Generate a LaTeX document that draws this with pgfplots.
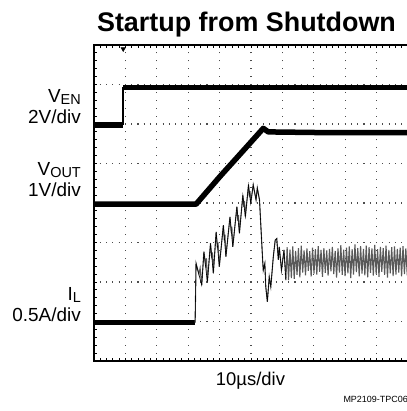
\documentclass[border=0pt]{standalone}
\usepackage{pgfplots}
\pgfplotsset{compat=1.18}
\usepackage{fontspec}
\setmainfont{Liberation Sans}
\begin{document}
\begin{tikzpicture}[x=1bp,y=1bp]
\useasboundingbox (0,0) rectangle (407,411);
\begin{axis}[
  at={(94bp,50bp)}, anchor=south west,
  scale only axis, width=315.6bp, height=316bp,
  xmin=0, xmax=10.05, ymin=0, ymax=8,
  xtick={0,...,10}, ytick={0,...,8},
  minor x tick num=4, minor y tick num=4,
  xticklabels={}, yticklabels={},
  tick align=inside, tick pos=both,
  major tick length=3bp, minor tick length=3bp,
  every tick/.style={black, line width=0.9bp},
  grid=major,
  x grid style={black!70, line width=1.1bp, dash pattern=on 1.1bp off 6.8bp, dash phase=0.55bp},
  y grid style={black!70, line width=1.1bp, dash pattern=on 1.1bp off 5.18bp, dash phase=0.55bp},
  axis line style={black, line width=2.6bp},
  clip=true,
]
% V_EN
\addplot[black, line width=5.5bp, line cap=butt] coordinates {(0,5.97) (0.925,5.97)};
\addplot[black, line width=1.3bp] coordinates {(0.925,5.97) (0.925,6.93)};
\addplot[black, line width=5.5bp, line cap=butt] coordinates {(0.925,6.93) (10.05,6.93)};
% V_OUT
\addplot[black, line width=5.5bp, line join=round] coordinates {(0,3.97) (3.25,3.97) (4.01,4.67) (4.86,5.42) (5.39,5.89) (5.55,5.80) (7.5,5.78) (10.05,5.78)};
% I_L baseline
\addplot[black, line width=5bp, line cap=butt] coordinates {(0,0.97) (3.22,0.97)};
% I_L switching
\addplot[black!65, line width=1.1bp] coordinates {
(3.22,0.97) (3.25,2.47) (3.34,2.20) (3.38,2.35) (3.43,1.92) (3.50,2.77) (3.55,2.45) (3.58,2.60) (3.61,2.00) (3.71,2.98) (3.75,2.60) (3.77,2.75) (3.80,2.22) (3.89,3.27) (3.93,2.85) (3.95,3.00) (3.99,2.39) (4.12,3.44) (4.15,3.05) (4.17,3.20) (4.20,2.64) (4.33,3.65) (4.37,3.25) (4.39,3.40) (4.42,2.89) (4.55,3.91) (4.58,3.55) (4.60,3.70) (4.63,3.23) (4.74,4.20) (4.77,3.90) (4.79,4.05) (4.82,3.65) (4.92,4.46) (4.95,4.15) (4.97,4.30) (4.99,3.99) (5.07,4.46) (5.16,4.08) (5.20,4.38) (5.27,4.08) (5.37,2.56) (5.39,2.30) (5.44,2.47) (5.47,1.88) (5.52,1.50) (5.58,2.13) (5.63,1.88) (5.71,2.64) (5.77,3.06) (5.82,3.10) (5.87,2.56) (5.90,2.89) (5.97,2.30) (6.05,2.81) (6.11,2.05)
(6.150,2.88) (6.195,2.05) (6.240,2.82) (6.285,2.10) (6.330,2.90) (6.375,2.08) (6.420,2.79) (6.465,2.18) (6.510,2.86) (6.555,2.12) (6.600,2.92) (6.645,2.24) (6.690,2.80) (6.735,2.17) (6.780,2.85) (6.825,2.28) (6.870,2.78) (6.915,2.14) (6.960,2.87) (7.005,2.21) (7.050,2.83) (7.095,2.19) (7.140,2.91) (7.185,2.26) (7.230,2.81) (7.275,2.13) (7.320,2.86) (7.365,2.23) (7.410,2.80) (7.455,2.16) (7.500,2.84) (7.545,2.27) (7.590,2.89) (7.635,2.20) (7.680,2.79) (7.725,2.11) (7.770,2.85) (7.815,2.24) (7.860,2.93) (7.905,2.18) (7.950,2.82) (7.995,2.15) (8.040,2.87) (8.085,2.22) (8.130,2.90) (8.175,2.10) (8.220,2.83) (8.265,2.19) (8.310,2.95) (8.355,2.25) (8.400,2.86) (8.445,2.14) (8.490,2.91) (8.535,2.21) (8.580,2.84) (8.625,2.17) (8.670,2.92) (8.715,2.12) (8.760,2.88) (8.805,2.23) (8.850,2.85) (8.895,2.16) (8.940,2.94) (8.985,2.20) (9.030,2.83) (9.075,2.13) (9.120,2.89) (9.165,2.26) (9.210,2.86) (9.255,2.18) (9.300,2.92) (9.345,2.11) (9.390,2.81) (9.435,2.22) (9.480,2.88) (9.525,2.15) (9.570,2.90) (9.615,2.19) (9.660,2.84) (9.705,2.24) (9.750,2.87) (9.795,2.14) (9.840,2.91) (9.885,2.20) (9.930,2.85) (9.975,2.17) (10.020,2.88)
};
\addplot[black, line width=0.6bp] coordinates {
(3.22,0.97) (3.25,2.47) (3.43,1.92) (3.50,2.77) (3.61,2.00) (3.71,2.98) (3.80,2.22) (3.89,3.27) (3.99,2.39) (4.12,3.44) (4.20,2.64) (4.33,3.65) (4.42,2.89) (4.55,3.91) (4.63,3.23) (4.74,4.20) (4.82,3.65) (4.92,4.46) (4.99,3.99) (5.07,4.46) (5.16,4.08) (5.20,4.38) (5.27,4.08) (5.37,2.56) (5.39,2.30) (5.44,2.47) (5.47,1.88) (5.52,1.50) (5.58,2.13) (5.63,1.88) (5.71,2.64) (5.77,3.06) (5.82,3.10) (5.87,2.56) (5.90,2.89) (5.97,2.30) (6.05,2.81) (6.11,2.05)
};
% trigger marker
\addplot[only marks, black, mark=triangle*, mark size=2.6bp, mark options={rotate=180}] coordinates {(0.93,7.90)};
\end{axis}
% texts
\node[anchor=base, font=\bfseries\fontsize{27}{27}\selectfont] at (246.5,379.5) {Startup from Shutdown};
\node[anchor=base, font=\fontsize{18.5}{18.5}\selectfont] at (250.5,26) {10µs/div};
\node[anchor=base east, font=\fontsize{9}{9}\selectfont, inner sep=0pt] at (408,9) {MP2109-TPC06};
\node[anchor=base east, inner sep=0pt, font=\fontsize{19}{19}\selectfont] at (81,309) {V\raisebox{-2bp}{\fontsize{14.5}{14.5}\selectfont EN}};
\node[anchor=base east, inner sep=0pt, font=\fontsize{19}{19}\selectfont] at (81,288) {2V/div};
\node[anchor=base east, inner sep=0pt, font=\fontsize{19}{19}\selectfont] at (81,235.5) {V\raisebox{-2bp}{\fontsize{14.5}{14.5}\selectfont OUT}};
\node[anchor=base east, inner sep=0pt, font=\fontsize{19}{19}\selectfont] at (81,215) {1V/div};
\node[anchor=base east, inner sep=0pt, font=\fontsize{19}{19}\selectfont] at (81,110.5) {I\raisebox{-2bp}{\fontsize{14.5}{14.5}\selectfont L}};
\node[anchor=base east, inner sep=0pt, font=\fontsize{19}{19}\selectfont] at (81,90) {0.5A/div};
\end{tikzpicture}
\end{document}
